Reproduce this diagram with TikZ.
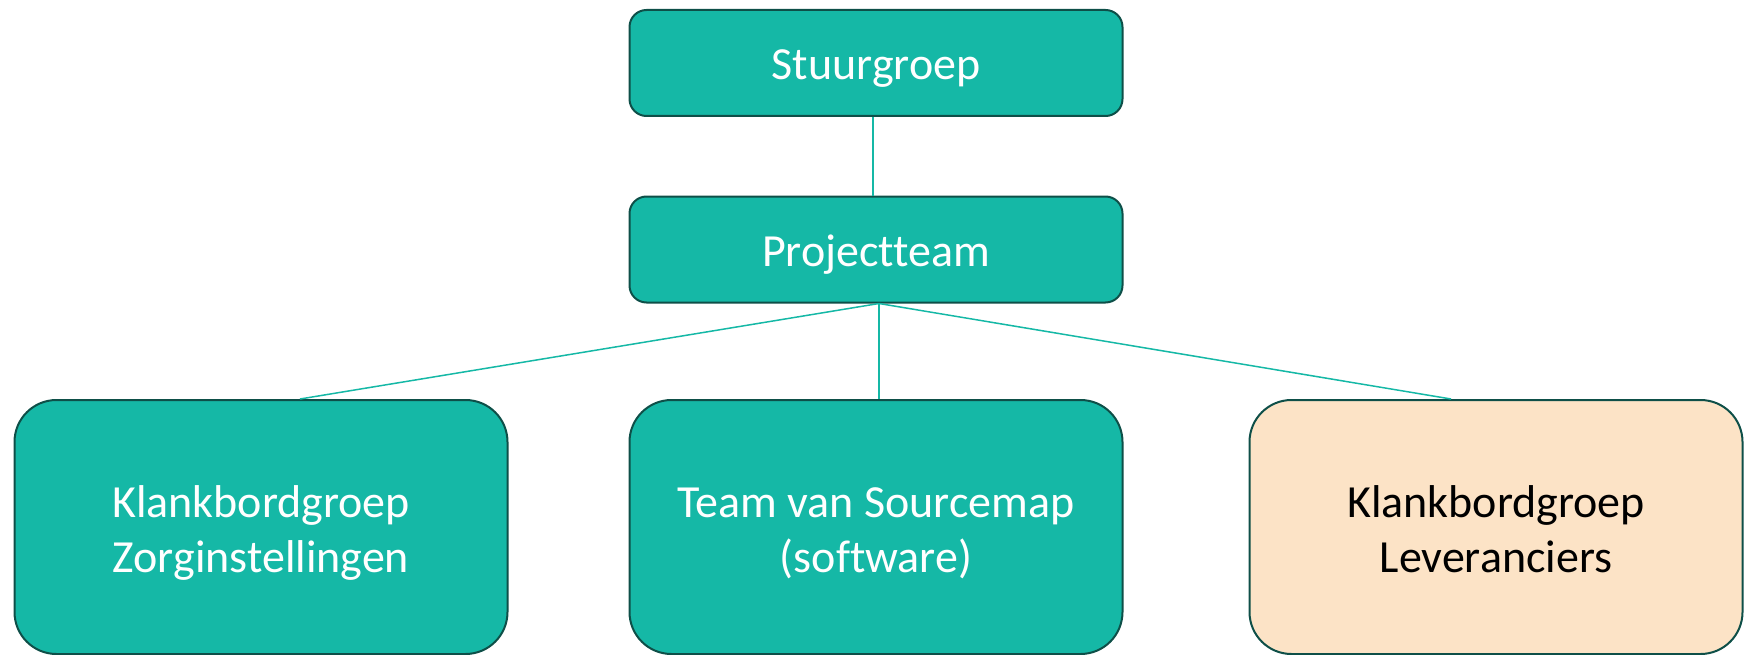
\documentclass[tikz,border=0pt]{standalone}
\usepackage{fontspec}
\setmainfont{Carlito}[Ligatures={NoCommon}]
\definecolor{tealfill}{HTML}{15B8A6}
\definecolor{tealedge}{HTML}{0E4F48}
\definecolor{peach}{HTML}{FCE3C6}
\tikzset{
  unit/.style={draw=tealedge, line width=2pt, fill=tealfill, text=white,
    rounded corners=17pt, minimum width=493pt, minimum height=106pt,
    inner sep=0pt, align=center, font=\fontsize{46}{55}\selectfont,
    text height=33pt, text depth=0pt},
  group/.style={unit, rounded corners=42pt, minimum height=254pt,
    text height=90pt},
  link/.style={draw=tealfill, line width=1.5pt}
}
\begin{document}
\begin{tikzpicture}[x=1pt, y=-1pt]
        \useasboundingbox (0, 0) rectangle (1744, 655);
        % boxes
        \node[unit] (stuur) at (876, 63) {Stuurgroep};
        \node[unit] (proj) at (876, 249.5) {Projectteam};
        \node[group] (zorg) at (261, 527) {Klankbordgroep\\Zorginstellingen};
        \node[group] (soft) at (876, 527) {Team van Sourcemap\\(software)};
        \node[group, fill=peach, text=black] (lev) at (1496, 527) {Klankbordgroep\\Leveranciers};
        % lines
        \draw[link] ([xshift=-3pt]stuur.south) -- ([xshift=-3pt]proj.north);
        \draw[link] ([xshift=3pt]proj.south) -- ([xshift=39pt]zorg.north);
        \draw[link] ([xshift=3pt]proj.south) -- ([xshift=3pt]soft.north);
        \draw[link] ([xshift=3pt]proj.south) -- ([xshift=-45pt]lev.north);
      \end{tikzpicture}
\end{document}
